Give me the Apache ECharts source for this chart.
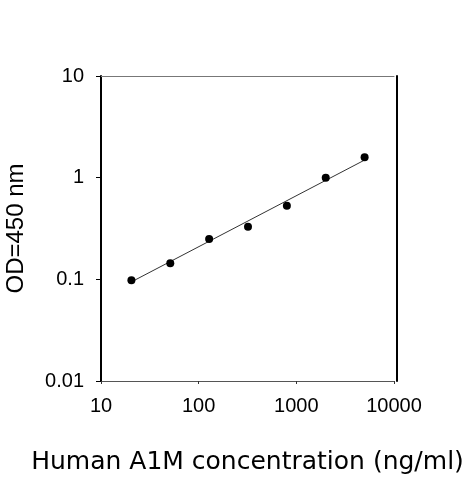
<!DOCTYPE html>
<html>
<head>
<meta charset="utf-8">
<script src="https://cdn.jsdelivr.net/npm/echarts@6/dist/echarts.min.js"></script>
<style>
html,body{margin:0;padding:0;background:#fff;}
#chart{width:463px;height:480px;}
</style>
</head>
<body>
<div id="chart"></div>
<script>
// Data
const concentration = [20.48, 51.2, 128, 320, 800, 2000, 5000];
const od450 = [0.098, 0.144, 0.249, 0.329, 0.53, 1.0, 1.59];
// Fitted line end points
const fitX = [20.48, 5000];
const fitY = [0.0944, 1.49];
// Axis tick labels
const xTickLabels = {10: '10', 100: '100', 1000: '1000', 10000: '10000'};
const yTickLabels = {0.01: '0.01', 0.1: '0.1', 1: '1', 10: '10'};
const xTitle = 'Human A1M concentration (ng/ml)';
const yTitle = 'OD=450 nm';

function lbl(map, v) {
  for (const k in map) {
    if (Math.abs(Math.log10(+k) - Math.log10(v)) < 1e-6) return map[k];
  }
  return '';
}

const chart = echarts.init(document.getElementById('chart'));
const labelFont = {fontFamily: 'Liberation Sans', fontSize: 20, color: '#000'};
chart.setOption({
  animation: false,
  backgroundColor: '#fff',
  grid: {left: 101, right: 69, top: 76, bottom: 99, containLabel: false, outerBoundsMode: 'none'},
  xAxis: [{
    type: 'log', logBase: 10, min: 10, max: 10000,
    name: xTitle, nameLocation: 'middle', nameGap: 69,
    nameTextStyle: {fontFamily: 'DejaVu Sans', fontSize: 25, color: '#000'},
    axisLine: {show: true, onZero: false, lineStyle: {color: '#555', width: 1}},
    axisTick: {show: true, inside: false, length: 3, lineStyle: {color: '#333'}},
    axisLabel: Object.assign({margin: 15, formatter: v => lbl(xTickLabels, v)}, labelFont),
    splitLine: {show: false}, minorTick: {show: false}
  }, {
    type: 'log', logBase: 10, min: 10, max: 10000, position: 'top',
    axisLine: {show: true, onZero: false, lineStyle: {color: '#777', width: 1}},
    axisTick: {show: false}, axisLabel: {show: false}, splitLine: {show: false}
  }],
  yAxis: [{
    type: 'log', logBase: 10, min: 0.01, max: 10,
    name: yTitle, nameLocation: 'middle', nameGap: 73, nameRotate: 90,
    nameTextStyle: {fontFamily: 'Liberation Sans', fontSize: 24, color: '#000'},
    axisLine: {show: true, onZero: false, lineStyle: {color: '#000', width: 2}},
    axisTick: {show: true, inside: false, length: 5, lineStyle: {color: '#000'}},
    axisLabel: Object.assign({margin: 17, formatter: v => lbl(yTickLabels, v)}, labelFont),
    splitLine: {show: false}, minorTick: {show: false}
  }, {
    type: 'log', logBase: 10, min: 0.01, max: 10, position: 'right', offset: 3,
    axisLine: {show: true, onZero: false, lineStyle: {color: '#000', width: 2}},
    axisTick: {show: false}, axisLabel: {show: false}, splitLine: {show: false}
  }],
  series: [{
    type: 'line',
    data: fitX.map((x, i) => [x, fitY[i]]),
    symbol: 'none',
    lineStyle: {color: '#333', width: 1},
    z: 1
  }, {
    type: 'scatter',
    data: concentration.map((x, i) => [x, od450[i]]),
    symbol: 'circle', symbolSize: 8,
    itemStyle: {color: '#000', opacity: 1},
    z: 2
  }]
});
</script>
</body>
</html>
